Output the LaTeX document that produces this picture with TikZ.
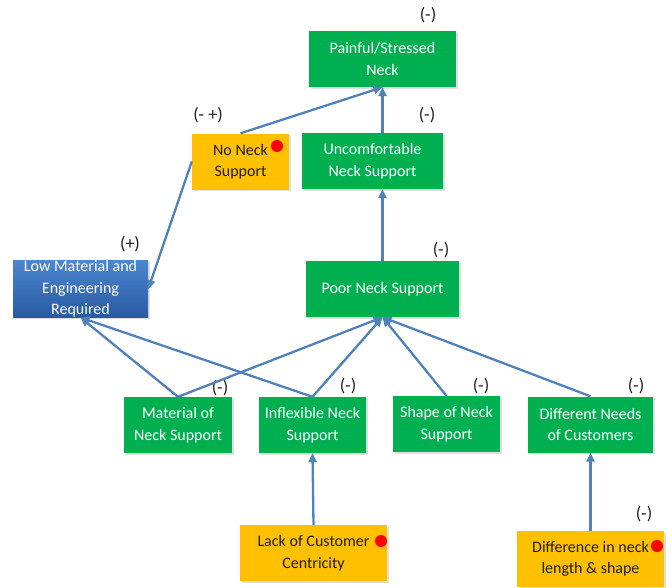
\documentclass[tikz,border=0pt]{standalone}
\usepackage{fontspec}
\setmainfont{Carlito}
\usepackage{tikz}
\usetikzlibrary{arrows.meta,shadows}

\definecolor{boxgreen}{RGB}{0,176,80}
\definecolor{boxorange}{RGB}{255,192,0}
\definecolor{linkblue}{RGB}{79,129,189}
\definecolor{bluetop}{RGB}{76,134,208}
\definecolor{bluebot}{RGB}{40,90,162}
\definecolor{darktext}{RGB}{30,30,30}

\tikzset{
  card/.style={minimum height=56pt, inner sep=0pt, align=center,
    font=\fontsize{16}{21.5}\selectfont,
    drop shadow={shadow xshift=1.5pt, shadow yshift=-1.5pt, opacity=0.25}},
  greenbox/.style={card, fill=boxgreen, text=white},
  orangebox/.style={card, fill=boxorange, text=darktext},
  bluebox/.style={card, top color=bluetop, bottom color=bluebot, text=white},
  sign/.style={font=\fontsize{18}{20}\selectfont, text=darktext, inner sep=0pt},
  reddot/.style={circle, fill=red, inner sep=0pt, minimum size=12pt},
  link/.style={draw=linkblue, line width=2.3pt, -{Triangle[length=9pt,width=8pt]}},
}

\begin{document}
\begin{tikzpicture}[x=1pt,y=-1pt]
		\useasboundingbox (0,0) rectangle (672,587);

		\node[greenbox, minimum width=147pt] (painful) at (382.5,59) {Painful/Stressed\\Neck};
		\node[orangebox, minimum width=97pt] (noneck) at (240.5,161.5) {No Neck\\Support};
		\node[greenbox, minimum width=141pt] (uncomf) at (372.5,161) {Uncomfortable\\Neck Support};
		\node[bluebox, minimum width=135pt] (lowmat) at (80.5,289) {Low Material and\\Engineering\\Required};
		\node[greenbox, minimum width=153pt] (poor) at (382.5,289) {Poor Neck Support};

		\node[greenbox, minimum width=108pt] (material) at (178,425) {Material of\\Neck Support};
		\node[greenbox, minimum width=107pt] (inflex) at (312.5,425) {Inflexible Neck\\Support};
		\node[greenbox, minimum width=107pt] (shape) at (446.5,424) {Shape of Neck\\Support};
		\node[greenbox, minimum width=125pt] (needs) at (590.5,424.5) {Different Needs\\of Customers};

		\node[orangebox, minimum width=147pt] (lack) at (313.5,553) {Lack of Customer\\Centricity};
		\node[orangebox, minimum width=147pt] (diff) at (590.5,559) {Difference in neck\\length \& shape};

		% red markers
		\node[reddot] (dot_noneck) at (277,146) {};
		\node[reddot] (dot_lack) at (381,541) {};
		\node[reddot] (dot_diff) at (657,546) {};

		% signs
		\node[sign] (s_painful) at (428,15) {(-)};
		\node[sign] (s_noneck) at (208,115) {(- +)};
		\node[sign] (s_uncomf) at (427,115) {(-)};
		\node[sign] (s_lowmat) at (130,244) {(+)};
		\node[sign] (s_poor) at (441,250) {(-)};
		\node[sign] (s_material) at (220,388) {(-)};
		\node[sign] (s_inflex) at (348,386) {(-)};
		\node[sign] (s_shape) at (481,386) {(-)};
		\node[sign] (s_needs) at (636,386) {(-)};
		\node[sign] (s_diff) at (644,514) {(-)};

		% links
		\draw[link] (noneck.north) -- (painful.south);
		\draw[link] (painful.south |- uncomf.north) -- (painful.south);
		\draw[link] (poor.north) -- (poor.north |- uncomf.south);
		\draw[link] (noneck.west) -- (lowmat.east);

		\draw[link] (material.north) -- (poor.south);
		\draw[link] (material.north) -- (lowmat.south);
		\draw[link] (inflex.north) -- (lowmat.south);
		\draw[link] (inflex.north) -- (poor.south);
		\draw[link] (shape.north) -- (poor.south);
		\draw[link] (needs.north) -- (poor.south);

		\draw[link] (lack.north) -- (inflex.south);
		\draw[link] (diff.north) -- (needs.south);
	\end{tikzpicture}
\end{document}
